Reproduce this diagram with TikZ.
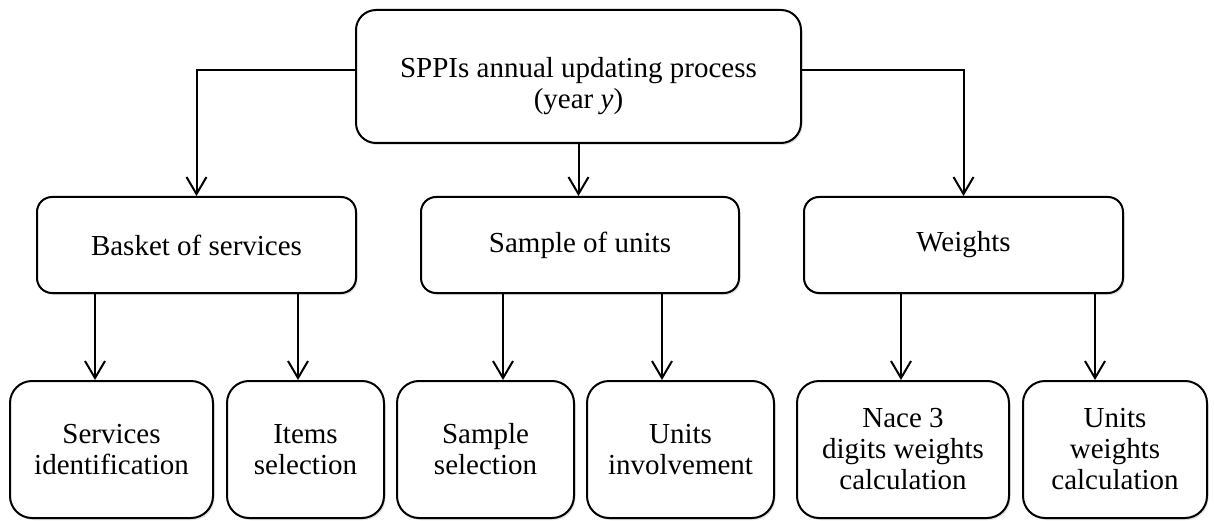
\documentclass[tikz,border=0pt]{standalone}
\usepackage{fontspec}
\setmainfont{Liberation Serif}
\usetikzlibrary{arrows.meta,shadows}

\tikzset{
    box/.style={draw, line width=2pt, fill=white, align=center,
        font=\fontsize{29}{31}\selectfont, inner sep=0pt,
        drop shadow={opacity=0.25, shadow xshift=1.5pt, shadow yshift=-2pt}},
    arr/.style={line width=2pt, -{Straight Barb[length=17pt,width=20pt,line width=2pt]}}
}

\begin{document}
\begin{tikzpicture}[x=1pt,y=-1pt]
    \useasboundingbox (0,0) rectangle (1214,521);

    % Top process
    \node[box, rounded corners=20pt, minimum width=445pt, minimum height=133pt] (top) at (578.5,76.5)
        {\rule{0pt}{40pt}SPPIs annual updating process\\(year \textit{y})};

    % Middle row
    \node[box, rounded corners=15pt, minimum width=319pt, minimum height=96pt] (basket) at (196.5,245) {Basket of services};
    \node[box, rounded corners=15pt, minimum width=318pt, minimum height=96pt] (sample) at (580,245) {Sample of units};
    \node[box, rounded corners=15pt, minimum width=319pt, minimum height=96pt] (weights) at (963.5,245) {Weights};

    % Bottom row
    \node[box, rounded corners=22pt, minimum width=203pt, minimum height=137pt] (servid) at (111.5,449.5) {Services\\identification};
    \node[box, rounded corners=22pt, minimum width=157pt, minimum height=137pt] (items) at (305.5,449.5) {Items\\selection};
    \node[box, rounded corners=22pt, minimum width=177pt, minimum height=137pt] (samsel) at (485.5,449.5) {Sample\\selection};
    \node[box, rounded corners=22pt, minimum width=187pt, minimum height=137pt] (unitinv) at (680.5,449.5) {Units\\involvement};
    \node[box, rounded corners=22pt, minimum width=212pt, minimum height=137pt] (nace) at (903,449.5) {Nace 3\\digits weights\\calculation};
    \node[box, rounded corners=22pt, minimum width=184pt, minimum height=137pt] (unitw) at (1115,449.5) {Units\\weights\\calculation};

    % Connectors from top
    \draw[arr] ([yshift=6.5pt]top.west) -| (basket.north);
    \draw[arr] ([yshift=6.5pt]top.east) -| (weights.north);
    \draw[arr] (top.south) -- (top.south |- sample.north);

    % Connectors to bottom row
    \draw[arr] ([xshift=-101.5pt]basket.south) -- ([xshift=-101.5pt]basket.south |- servid.north);
    \draw[arr] ([xshift=101.5pt]basket.south) -- ([xshift=101.5pt]basket.south |- items.north);
    \draw[arr] ([xshift=-77pt]sample.south) -- ([xshift=-77pt]sample.south |- samsel.north);
    \draw[arr] ([xshift=82pt]sample.south) -- ([xshift=82pt]sample.south |- unitinv.north);
    \draw[arr] ([xshift=-62.5pt]weights.south) -- ([xshift=-62.5pt]weights.south |- nace.north);
    \draw[arr] ([xshift=131.5pt]weights.south) -- ([xshift=131.5pt]weights.south |- unitw.north);
\end{tikzpicture}
\end{document}
